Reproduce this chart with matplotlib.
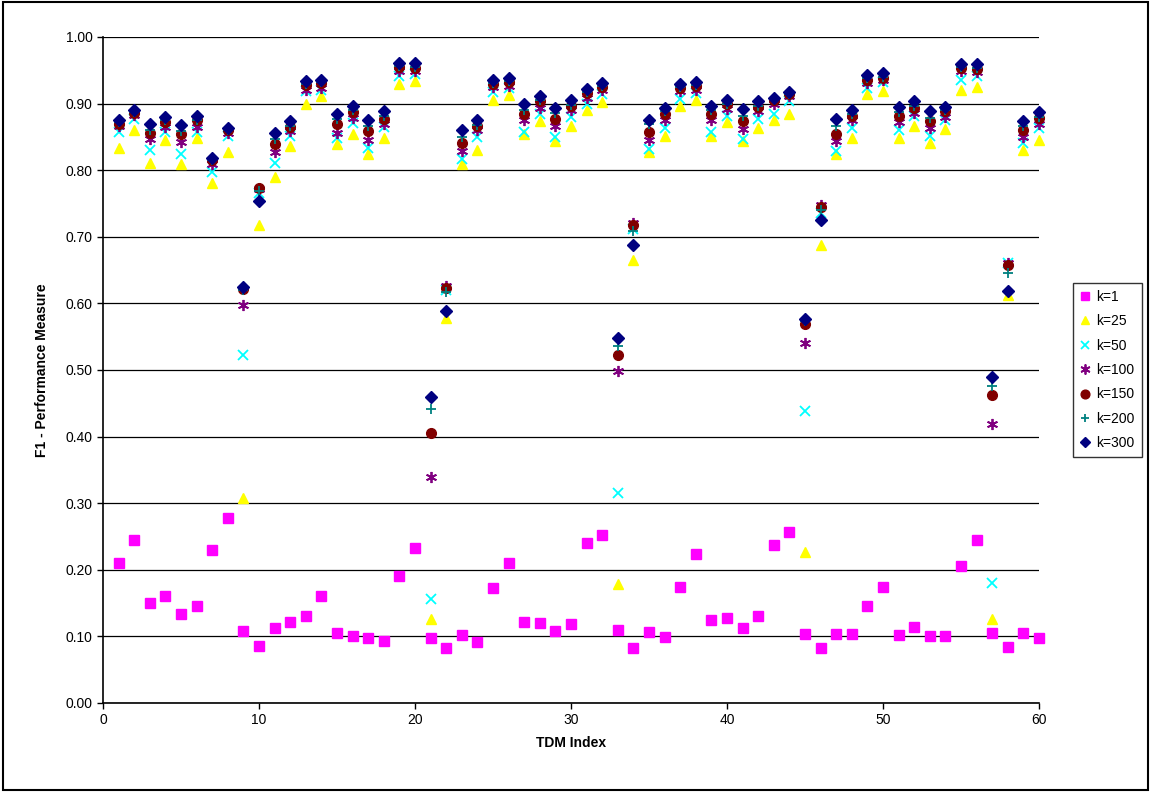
import matplotlib
matplotlib.use("Agg")
import matplotlib.pyplot as plt
from matplotlib.patches import Rectangle
import numpy as np

plt.rcParams['font.family'] = ['Liberation Sans', 'DejaVu Sans']

# TDM index 1..60
tdm = list(range(1, 61))

k1 = [0.210, 0.245, 0.150, 0.160, 0.133, 0.145, 0.230, 0.277, 0.108, 0.086,
      0.113, 0.121, 0.130, 0.160, 0.105, 0.101, 0.098, 0.093, 0.190, 0.232,
      0.098, 0.083, 0.102, 0.092, 0.173, 0.210, 0.122, 0.120, 0.108, 0.118,
      0.240, 0.252, 0.110, 0.082, 0.106, 0.099, 0.174, 0.223, 0.125, 0.127,
      0.113, 0.130, 0.237, 0.257, 0.103, 0.083, 0.104, 0.104, 0.145, 0.174,
      0.102, 0.114, 0.100, 0.101, 0.205, 0.245, 0.105, 0.084, 0.105, 0.098]

k25 = [0.834, 0.860, 0.811, 0.845, 0.809, 0.849, 0.781, 0.828, 0.308, 0.717,
       0.790, 0.837, 0.899, 0.911, 0.839, 0.854, 0.825, 0.849, 0.930, 0.934,
       0.126, 0.578, 0.809, 0.831, 0.905, 0.913, 0.855, 0.874, 0.844, 0.866,
       0.891, 0.902, 0.179, 0.665, 0.827, 0.851, 0.896, 0.905, 0.852, 0.872,
       0.844, 0.864, 0.875, 0.884, 0.227, 0.688, 0.824, 0.849, 0.915, 0.919,
       0.849, 0.866, 0.841, 0.862, 0.920, 0.925, 0.126, 0.613, 0.831, 0.846]

k50 = [0.858, 0.877, 0.830, 0.858, 0.824, 0.857, 0.798, 0.852, 0.522, 0.766,
       0.811, 0.852, 0.919, 0.921, 0.849, 0.871, 0.833, 0.865, 0.942, 0.944,
       0.156, 0.620, 0.817, 0.850, 0.917, 0.924, 0.858, 0.885, 0.850, 0.880,
       0.900, 0.915, 0.315, 0.712, 0.832, 0.864, 0.907, 0.916, 0.857, 0.881,
       0.847, 0.877, 0.885, 0.904, 0.438, 0.735, 0.829, 0.864, 0.924, 0.932,
       0.861, 0.882, 0.852, 0.876, 0.936, 0.941, 0.180, 0.660, 0.841, 0.863]

k100 = [0.866, 0.883, 0.847, 0.865, 0.843, 0.865, 0.809, 0.856, 0.598, 0.772,
        0.827, 0.859, 0.920, 0.924, 0.856, 0.879, 0.845, 0.869, 0.949, 0.949,
        0.340, 0.626, 0.829, 0.861, 0.925, 0.927, 0.875, 0.894, 0.866, 0.891,
        0.909, 0.921, 0.499, 0.720, 0.845, 0.876, 0.919, 0.921, 0.875, 0.892,
        0.862, 0.889, 0.900, 0.911, 0.541, 0.747, 0.844, 0.876, 0.931, 0.935,
        0.872, 0.886, 0.864, 0.880, 0.949, 0.947, 0.419, 0.661, 0.850, 0.870]

k150 = [0.870, 0.886, 0.856, 0.873, 0.855, 0.875, 0.815, 0.861, 0.621, 0.774,
        0.840, 0.865, 0.928, 0.931, 0.869, 0.888, 0.859, 0.877, 0.955, 0.954,
        0.405, 0.623, 0.841, 0.866, 0.930, 0.932, 0.884, 0.904, 0.877, 0.897,
        0.916, 0.925, 0.523, 0.718, 0.857, 0.884, 0.924, 0.926, 0.884, 0.899,
        0.874, 0.895, 0.906, 0.914, 0.569, 0.745, 0.855, 0.882, 0.936, 0.939,
        0.882, 0.894, 0.874, 0.889, 0.954, 0.952, 0.463, 0.658, 0.861, 0.878]

k200 = [0.872, 0.888, 0.861, 0.875, 0.859, 0.876, 0.816, 0.861, 0.620, 0.768,
        0.847, 0.866, 0.929, 0.932, 0.877, 0.890, 0.866, 0.881, 0.956, 0.955,
        0.441, 0.617, 0.850, 0.868, 0.931, 0.934, 0.891, 0.905, 0.886, 0.898,
        0.918, 0.926, 0.536, 0.708, 0.869, 0.889, 0.925, 0.928, 0.890, 0.899,
        0.882, 0.896, 0.907, 0.915, 0.573, 0.740, 0.866, 0.884, 0.938, 0.940,
        0.887, 0.896, 0.879, 0.890, 0.955, 0.954, 0.476, 0.646, 0.866, 0.880]

k300 = [0.876, 0.891, 0.870, 0.880, 0.868, 0.882, 0.819, 0.863, 0.625, 0.754,
        0.856, 0.874, 0.934, 0.936, 0.884, 0.896, 0.876, 0.889, 0.961, 0.961,
        0.459, 0.588, 0.860, 0.875, 0.936, 0.939, 0.899, 0.911, 0.894, 0.905,
        0.922, 0.931, 0.548, 0.687, 0.875, 0.894, 0.930, 0.933, 0.896, 0.905,
        0.892, 0.904, 0.909, 0.918, 0.577, 0.725, 0.877, 0.890, 0.943, 0.946,
        0.895, 0.904, 0.889, 0.895, 0.960, 0.959, 0.489, 0.619, 0.874, 0.887]

series = [
    ("k=1", k1, 's', '#FF00FF', 7),
    ("k=25", k25, '^', '#FFFF00', 7),
    ("k=50", k50, 'x', '#00FFFF', 7),
    ("k=100", k100, (6, 2, 0), '#800080', 8),
    ("k=150", k150, 'o', '#800000', 7),
    ("k=200", k200, '+', '#008080', 7),
    ("k=300", k300, 'D', '#000080', 6),
]

fig = plt.figure(figsize=(11.51, 7.92), dpi=100)
ax = fig.add_axes([0.0895, 0.1124, 0.8132, 0.8409])

for label, vals, m, c, ms in series:
    if m in ('x', '+') or isinstance(m, tuple):
        ax.plot(tdm, vals, linestyle='none', marker=m, color=c, markersize=ms,
                markeredgewidth=1.3, label=label, clip_on=False)
    else:
        ax.plot(tdm, vals, linestyle='none', marker=m, markerfacecolor=c,
                markeredgecolor=c, markersize=ms, label=label, clip_on=False)

ax.set_xlim(0, 60)
ax.set_ylim(0, 1.0)
ax.set_xticks(range(0, 61, 10))
ax.set_yticks(np.arange(0, 1.01, 0.1))
ax.set_yticklabels(["%.2f" % v for v in np.arange(0, 1.01, 0.1)])
ax.tick_params(labelsize=10, direction='out', length=4, width=1)
ax.yaxis.grid(True, color='black', linewidth=0.9)
ax.set_axisbelow(True)
for s in ['top', 'right']:
    ax.spines[s].set_visible(False)
ax.spines['left'].set_linewidth(1.2)
ax.spines['bottom'].set_linewidth(1.2)

ax.set_xlabel("TDM Index", fontsize=10, fontweight='bold', labelpad=6)
ax.set_ylabel("F1 - Performance Measure", fontsize=10, fontweight='bold', labelpad=12)

leg = ax.legend(loc='center left', bbox_to_anchor=(1066 / 1151, (792 - 370) / 792),
                bbox_transform=fig.transFigure, fontsize=10, frameon=True,
                fancybox=False, edgecolor='black', handlelength=0.8,
                handletextpad=0.4, borderpad=0.5, labelspacing=0.75,
                markerscale=0.9)
leg.get_frame().set_linewidth(1.0)

fig.patches.append(Rectangle((0.003, 0.003), 0.994, 0.994, transform=fig.transFigure,
                             fill=False, edgecolor='black', linewidth=1.5))

fig.savefig("out.png", dpi=100)
